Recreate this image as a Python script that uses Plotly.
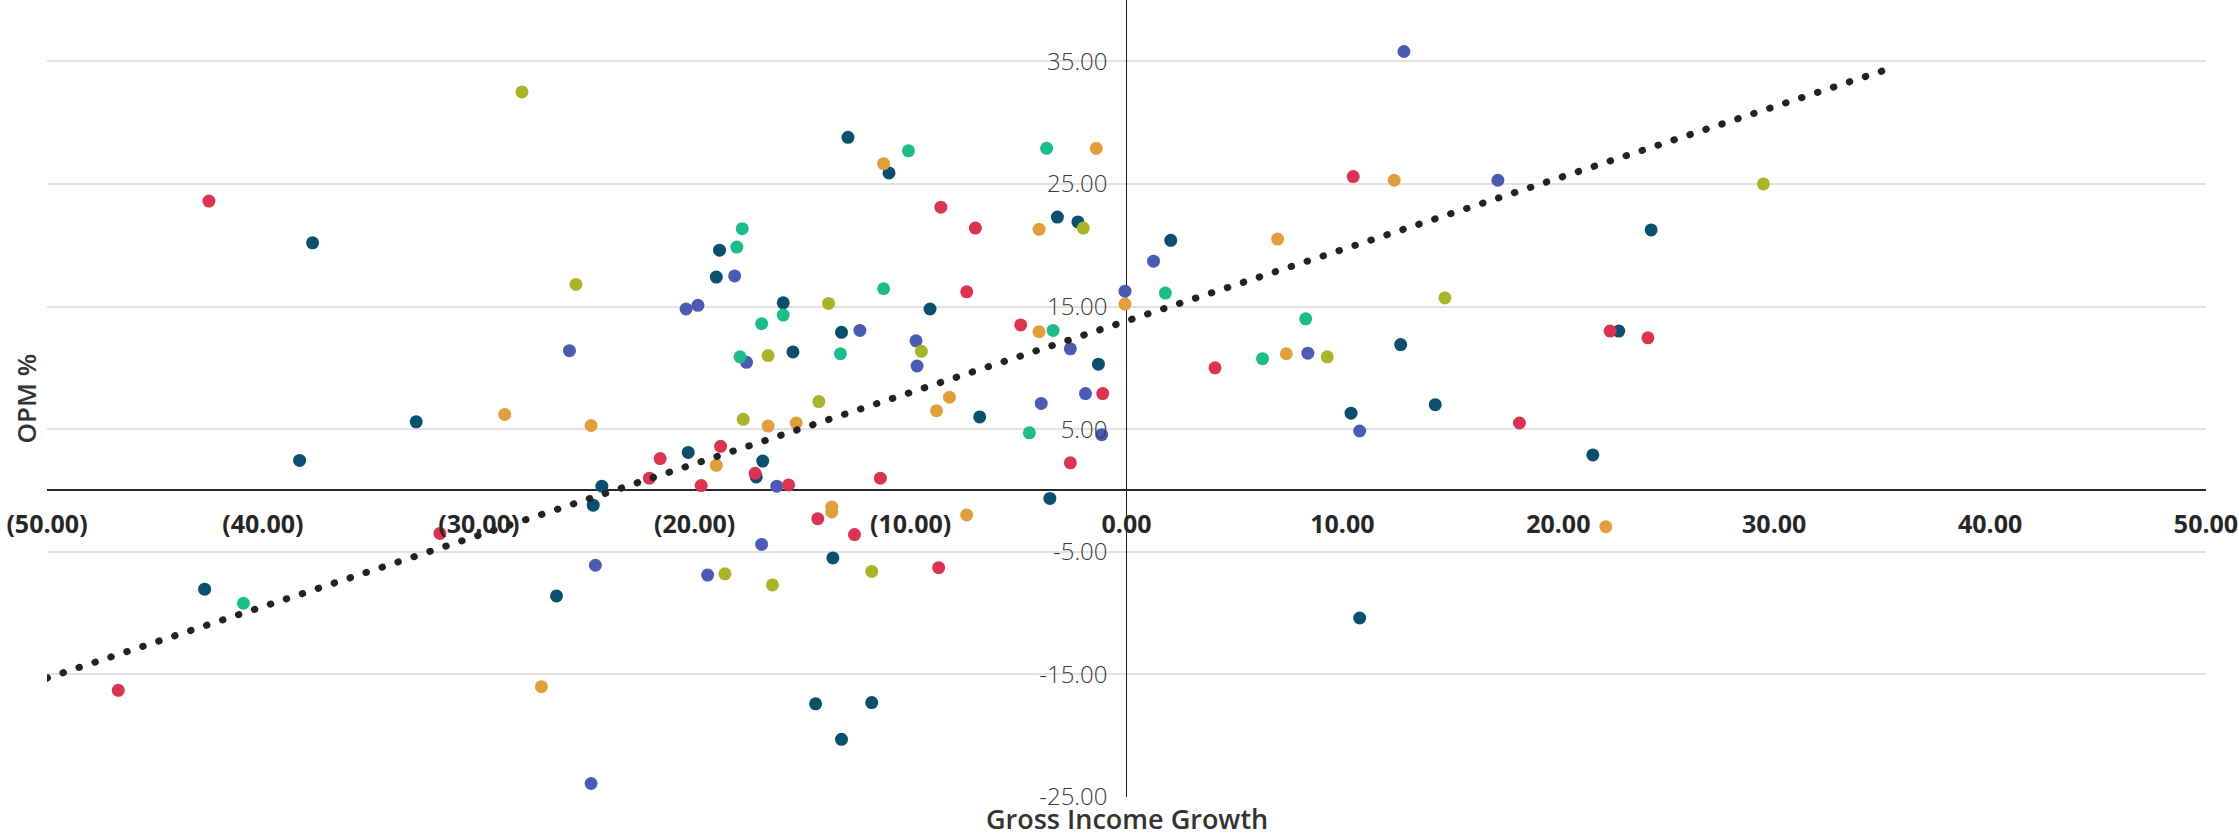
import plotly.graph_objects as go

# ---------------- data ----------------
red_x = [-42.5, -46.7, -31.8, -22.1, -21.6, -19.7, -18.8, -17.2, -15.65, -14.3, -12.6, -11.4,
         -8.7, -8.6, -7.0, -7.4, -4.9, -2.6, -1.1, 4.1, 10.5, 18.2, 22.4, 24.15]
red_y = [23.6, -16.3, -3.5, 1.0, 2.6, 0.4, 3.6, 1.4, 0.45, -2.3, -3.6, 1.0,
         -6.3, 23.1, 21.4, 16.2, 13.5, 2.25, 7.9, 10.0, 25.6, 5.5, 13.0, 12.45]

navy_x = [-37.7, -38.3, -32.9, -42.7, -26.4, -24.7, -24.3, -20.3, -19.0, -18.85, -15.9, -15.45,
          -16.85, -17.15, -13.2, -12.9, -11.0, -9.1, -6.8, -3.2, -2.25, -1.3, 2.05, -3.55,
          -13.6, -14.4, -11.8, -13.2, 10.4, 12.7, 14.3, 10.8, 21.6, 22.8, 24.3]
navy_y = [20.2, 2.45, 5.6, -8.05, -8.6, -1.2, 0.35, 3.1, 17.4, 19.6, 15.3, 11.3,
          2.4, 1.1, 12.9, 28.8, 25.9, 14.8, 6.0, 22.3, 21.9, 10.3, 20.4, -0.65,
          -5.5, -17.4, -17.3, -20.3, 6.3, 11.9, 7.0, -10.4, 2.9, 13.0, 21.25]

blue_x = [-24.8, -24.6, -25.8, -20.4, -19.85, -18.15, -17.6, -19.4, -16.9, -16.2, -12.35, -9.75,
          -9.7, -3.95, -2.6, -1.9, -1.15, -0.07, 1.25, 12.85, 17.2, 8.4, 10.8]
blue_y = [-23.9, -6.1, 11.4, 14.8, 15.1, 17.5, 10.45, -6.9, -4.4, 0.35, 13.05, 12.2,
          10.15, 7.1, 11.55, 7.9, 4.55, 16.25, 18.7, 35.8, 25.3, 11.2, 4.85]

green_x = [-40.9, -17.8, -18.05, -15.9, -16.9, -17.9, -13.25, -11.25, -10.1, -3.7, -3.4, 1.8,
           8.3, 6.3, -4.5]
green_y = [-9.2, 21.35, 19.85, 14.3, 13.6, 10.9, 11.15, 16.45, 27.7, 27.9, 13.05, 16.1,
           14.0, 10.75, 4.7]

olive_x = [-28.0, -25.5, -16.6, -17.75, -13.8, -14.25, -9.5, -2.0, 14.75, 9.3, 29.5, -18.6,
           -16.4, -11.8]
olive_y = [32.5, 16.8, 11.0, 5.8, 15.25, 7.25, 11.35, 21.4, 15.7, 10.9, 25.0, -6.8,
           -7.7, -6.6]

orange_x = [-28.8, -24.8, -27.1, -19.0, -16.6, -15.3, -8.8, -8.2, -11.25, -4.05, -1.4, -4.05,
            -0.07, 7.0, 7.4, 12.4, -13.65, -13.65, -7.4, 22.2]
orange_y = [6.2, 5.3, -16.0, 2.05, 5.25, 5.5, 6.5, 7.6, 26.65, 21.3, 27.9, 12.95,
            15.2, 20.5, 11.15, 25.3, -1.35, -1.75, -2.0, -2.95]

# linear trendline (endpoints as drawn in the reference)
trend_x = [-50.0, 35.5]
trend_y = [-15.3, 34.5]

x_tickvals = [-50, -40, -30, -20, -10, 0, 10, 20, 30, 40, 50]
x_ticktext = ["(50.00)", "(40.00)", "(30.00)", "(20.00)", "(10.00)", "0.00",
              "10.00", "20.00", "30.00", "40.00", "50.00"]
y_tickvals = [-25, -15, -5, 5, 15, 25, 35]
y_ticktext = ["-25.00", "-15.00", "-5.00", "5.00", "15.00", "25.00", "35.00"]

x_title = "Gross Income Growth"
y_title = "OPM %"

# ---------------- figure ----------------
series = [
    (navy_x, navy_y, "#0A4F6D"),
    (blue_x, blue_y, "#4B5BB3"),
    (green_x, green_y, "#1CBD8B"),
    (olive_x, olive_y, "#A9B42B"),
    (orange_x, orange_y, "#E09F3B"),
    (red_x, red_y, "#DB3453"),
]

fig = go.Figure()
for xs, ys, col in series:
    fig.add_trace(go.Scatter(
        x=xs, y=ys, mode="markers",
        marker=dict(size=13, color=col, line=dict(width=0)),
        showlegend=False, hoverinfo="x+y",
    ))

fig.add_trace(go.Scatter(
    x=trend_x, y=trend_y, mode="lines",
    line=dict(color="#222222", width=7, dash="0.5px,16.3px"),
    showlegend=False, hoverinfo="skip",
))

fig.update_layout(
    width=2239, height=836,
    margin=dict(l=47, r=33, t=0, b=39),
    paper_bgcolor="white", plot_bgcolor="white",
    xaxis=dict(
        range=[-50, 50], tickvals=x_tickvals, ticktext=x_ticktext,
        showgrid=False, zeroline=True, zerolinecolor="#1a1a1a", zerolinewidth=1.3,
        showline=False, ticks="", anchor="free", position=25 / 65,
        ticklabelstandoff=17,
        tickfont=dict(family="Open Sans", size=25, weight="bold", color="#262626"),
    ),
    yaxis=dict(
        range=[-25, 40], tickvals=y_tickvals, ticktext=y_ticktext,
        showgrid=True, gridcolor="#E4E0E4", gridwidth=1.5,
        zeroline=True, zerolinecolor="#2b2b2b", zerolinewidth=2.2,
        showline=False, ticks="", anchor="free", position=0.5,
        ticklabelstandoff=19,
        tickfont=dict(family="Open Sans", size=24, weight=300, color="#3a3a3a"),
    ),
    annotations=[
        dict(text=x_title, xref="paper", yref="paper", x=0.5, y=0,
             xanchor="center", yanchor="bottom", yshift=-42, showarrow=False,
             font=dict(family="Open Sans", size=27, weight=600, color="#333333")),
        dict(text=y_title, xref="paper", yref="paper", x=0, y=0.5,
             xanchor="center", yanchor="middle", xshift=-22, textangle=-90, showarrow=False,
             font=dict(family="Open Sans", size=26, weight=600, color="#333333")),
    ],
)

post = ("document.body.style.margin='0';"
        "document.querySelectorAll('.scatterlayer .js-line').forEach(function(e){"
        "e.style.strokeLinecap='round';});")

fig.write_html("out.html", post_script=post, config={"displayModeBar": False})
